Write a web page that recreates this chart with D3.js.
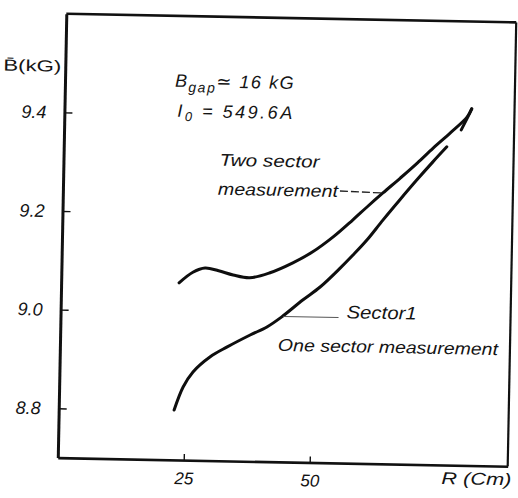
<!DOCTYPE html>
<html>
<head>
<meta charset="utf-8">
<script src="https://cdn.jsdelivr.net/npm/d3@7"></script>
<style>
  html, body { margin: 0; padding: 0; background: #fff; }
  svg { display: block; }
  .hand { font-family: "Liberation Sans", "DejaVu Sans", sans-serif; font-style: italic; fill: #141414; }
</style>
</head>
<body>
<svg id="chart" width="518" height="498"></svg>
<script>
// ---- data ----
// Two sector measurement: R (cm), mean field B (kG)
const R_two = [23.4, 26.1, 28.5, 31.2, 34.1, 37.4, 41.4, 45.9, 49.8, 53.8, 57.6, 60.4, 63.5, 66.9, 70.2, 73.3, 76.6, 79.9, 80.8];
const B_two = [9.059, 9.081, 9.090, 9.085, 9.077, 9.072, 9.083, 9.104, 9.127, 9.158, 9.193, 9.220, 9.249, 9.280, 9.311, 9.342, 9.373, 9.406, 9.423];
// One sector measurement (null = small gap in the drawn line)
const R_one = [22.9, 24.6, 26.5, 29.8, 33.2, 37.7, 41.0, 43.9, 48.0, 51.4, 55.3, 57.8, 60.5, 63.6, 66.9, 70.2, 73.3, 76.0, 77.4, 78.8, 80.0, 80.8];
const B_one = [8.801, 8.848, 8.879, 8.910, 8.931, 8.956, 8.973, 8.994, 9.029, 9.056, 9.095, 9.122, 9.153, 9.194, 9.236, 9.277, 9.314, 9.345, null, 9.380, 9.405, 9.423];
const yTicks = [8.8, 9.0, 9.2, 9.4];
const xTicks = [25, 50];
const xDomain = [0, 89.3];
const yDomain = [8.7, 9.6];

// ---- layout ----
const svg = d3.select("#chart");
const L = 62, Rt = 512, T = 18, Bm = 462;
const x = d3.scaleLinear().domain(xDomain).range([L, Rt]);
const y = d3.scaleLinear().domain(yDomain).range([Bm, T]);

// whole scanned figure is tilted slightly clockwise
const g = svg.append("g").attr("transform", "rotate(1.1, 287, 240)");

// frame (top and right)
g.append("line").attr("x1", L).attr("x2", Rt).attr("y1", T).attr("y2", T)
  .attr("stroke", "#111").attr("stroke-width", 2.6);
g.append("line").attr("x1", Rt).attr("x2", Rt).attr("y1", T).attr("y2", Bm)
  .attr("stroke", "#111").attr("stroke-width", 2.2);

const handStyle = sel => sel.attr("class", "hand")
  .style("font-family", "'Liberation Sans', 'DejaVu Sans', sans-serif")
  .style("font-style", "italic").attr("fill", "#141414");

// axes
const yAxis = d3.axisLeft(y).tickValues(yTicks).tickSize(-8).tickSizeOuter(0)
  .tickPadding(18).tickFormat(d3.format(".1f"));
const ya = g.append("g").attr("transform", `translate(${L},0)`).call(yAxis);
ya.select(".domain").attr("stroke", "#111").attr("stroke-width", 3);
ya.selectAll(".tick line").attr("stroke", "#111").attr("stroke-width", 1.4);
ya.selectAll(".tick text").call(handStyle).style("font-size", "18px");

const xAxis = d3.axisBottom(x).tickValues(xTicks).tickSize(-6).tickSizeOuter(0)
  .tickPadding(12).tickFormat(d3.format("d"));
const xa = g.append("g").attr("transform", `translate(0,${Bm})`).call(xAxis);
xa.select(".domain").attr("stroke", "#111").attr("stroke-width", 2.6);
xa.selectAll(".tick line").attr("stroke", "#111").attr("stroke-width", 1.4);
xa.selectAll(".tick text").call(handStyle).style("font-size", "17px");

// curves
const two = R_two.map((r, i) => ({ r, b: B_two[i] }));
const one = R_one.map((r, i) => ({ r, b: B_one[i] }));
const line = d3.line().defined(d => d.b != null)
  .x(d => x(d.r)).y(d => y(d.b)).curve(d3.curveCatmullRom.alpha(0.5));
g.append("path").datum(two).attr("d", line)
  .attr("fill", "none").attr("stroke", "#0e0e0e").attr("stroke-width", 3)
  .attr("stroke-linecap", "round").attr("stroke-linejoin", "round");
g.append("path").datum(one).attr("d", line)
  .attr("fill", "none").attr("stroke", "#0e0e0e").attr("stroke-width", 3)
  .attr("stroke-linecap", "round").attr("stroke-linejoin", "round");

// axis titles
g.append("text").attr("class", "hand").attr("x", 0).attr("y", 76)
  .style("font-size", "16px").style("font-style", "normal")
  .attr("textLength", 58).attr("lengthAdjust", "spacingAndGlyphs").text("B\u0304(kG)");
g.append("text").attr("class", "hand").attr("x", 446).attr("y", 481)
  .style("font-size", "17px").attr("textLength", 70).attr("lengthAdjust", "spacingAndGlyphs")
  .text("R (Cm)");

// parameters
const t1 = g.append("text").attr("class", "hand").attr("x", 172).attr("y", 89)
  .style("font-size", "18px").style("letter-spacing", "1.5px");
t1.append("tspan").text("B");
t1.append("tspan").attr("dy", 5).style("font-size", "14px").text("gap");
t1.append("tspan").attr("dy", -5).text("\u2243 16 kG");
const t2 = g.append("text").attr("class", "hand").attr("x", 175).attr("y", 119)
  .style("font-size", "18px").style("letter-spacing", "2.5px");
t2.append("tspan").text("I");
t2.append("tspan").attr("dy", 4).style("font-size", "13px").text("0");
t2.append("tspan").attr("dy", -4).text(" =  549.6A");

// annotations
g.append("text").attr("class", "hand").attr("x", 218).attr("y", 167)
  .style("font-size", "17px").attr("textLength", 100).attr("lengthAdjust", "spacingAndGlyphs").text("Two sector");
g.append("text").attr("class", "hand").attr("x", 217).attr("y", 196)
  .style("font-size", "17px").attr("textLength", 120).attr("lengthAdjust", "spacingAndGlyphs").text("measurement");
g.append("line").attr("x1", 339).attr("y1", 190).attr("x2", x(63.5)).attr("y2", y(9.249))
  .attr("stroke", "#222").attr("stroke-width", 1.3).attr("stroke-dasharray", "8,3");

g.append("text").attr("class", "hand").attr("x", 348).attr("y", 317)
  .style("font-size", "18px").attr("textLength", 70).attr("lengthAdjust", "spacingAndGlyphs").text("Sector1");
g.append("line").attr("x1", x(44.2)).attr("y1", y(8.995)).attr("x2", 340).attr("y2", y(8.995))
  .attr("stroke", "#555").attr("stroke-width", 1);
g.append("text").attr("class", "hand").attr("x", 280).attr("y", 351)
  .style("font-size", "17px").attr("textLength", 220).attr("lengthAdjust", "spacingAndGlyphs")
  .text("One sector measurement");
</script>
</body>
</html>
